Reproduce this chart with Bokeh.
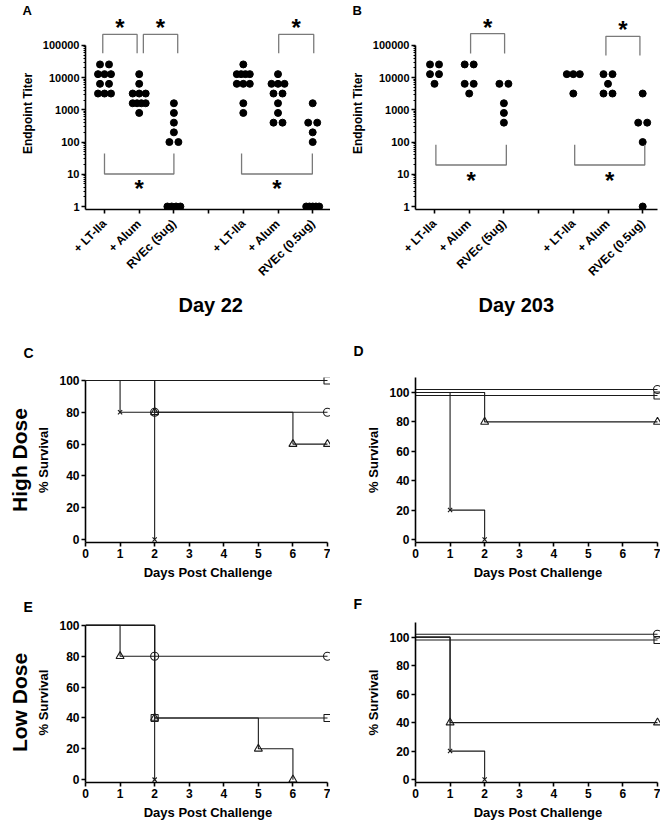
import math
from bokeh.plotting import figure
from bokeh.models import FixedTicker, Title, Range1d, NumeralTickFormatter
from bokeh.layouts import column, row
from bokeh.embed import file_html
from bokeh.resources import INLINE
from bokeh.core.properties import value

FONT = "Liberation Sans"

# ---------------- data ----------------
TICK_LABELS = ["+ LT-IIa", "+ Alum", "RVEc (5ug)", "", "+ LT-IIa", "+ Alum", "RVEc (0.5ug)"]
GROUP_POSITIONS = [1, 2, 3, 5, 6, 7]
TITER_TICKS = [1, 10, 100, 1000, 10000, 100000]

# Day 22 endpoint titers
DAY22_LT_5 = [25600, 25600, 12800, 12800, 12800, 6400, 6400, 3200, 3200, 3200]
DAY22_ALUM_5 = [12800, 6400, 3200, 3200, 3200, 1600, 1600, 1600, 1600, 800]
DAY22_RVEC_5 = [1600, 800, 400, 200, 100, 100, 1, 1, 1, 1]
DAY22_LT_05 = [25600, 12800, 12800, 12800, 12800, 6400, 6400, 6400, 1600, 800]
DAY22_ALUM_05 = [12800, 6400, 6400, 6400, 3200, 3200, 1600, 800, 400, 400]
DAY22_RVEC_05 = [1600, 400, 400, 200, 100, 1, 1, 1, 1, 1]

# Day 203 endpoint titers
DAY203_LT_5 = [25600, 25600, 12800, 12800, 6400]
DAY203_ALUM_5 = [25600, 25600, 6400, 6400, 3200]
DAY203_RVEC_5 = [6400, 6400, 1600, 800, 400]
DAY203_LT_05 = [12800, 12800, 12800, 3200]
DAY203_ALUM_05 = [12800, 12800, 6400, 3200, 3200]
DAY203_RVEC_05 = [3200, 400, 400, 100, 1]

DAY22_GROUPS = [DAY22_LT_5, DAY22_ALUM_5, DAY22_RVEC_5, DAY22_LT_05, DAY22_ALUM_05, DAY22_RVEC_05]
DAY203_GROUPS = [DAY203_LT_5, DAY203_ALUM_5, DAY203_RVEC_5, DAY203_LT_05, DAY203_ALUM_05, DAY203_RVEC_05]

# significance brackets: (left group, right group, bar level, leg end level, asterisk level)
DAY22_BRACKETS = [
    (0.95, 1.94, 2.19e5, 5.66e4, 5.39e5),
    (2.12, 3.11, 2.19e5, 5.66e4, 5.39e5),
    (6.02, 7.03, 2.19e5, 5.66e4, 5.39e5),
    (1.00, 3.00, 10.2, 44, 5.5),
    (4.95, 6.99, 10.2, 44, 5.5),
]
DAY203_BRACKETS = [
    (2.04, 3.02, 2.30e5, 5.55e4, 5.39e5),
    (5.94, 6.92, 1.90e5, 4.81e4, 4.54e5),
    (1.04, 3.07, 19.4, 82, 9.25),
    (5.04, 7.06, 19.4, 82, 9.25),
]

# survival curves: (days, % survival, marker)
C_CURVES = [
    ([0, 7], [100, 100], "square"),
    ([0, 2, 7], [100, 80, 80], "circle"),
    ([0, 2, 6, 7], [100, 80, 60, 60], "triangle"),
    ([0, 1, 2], [100, 80, 0], "x"),
]
D_CURVES = [
    ([0, 7], [102, 102], "circle"),
    ([0, 7], [98, 98], "square"),
    ([0, 2, 7], [100, 80, 80], "triangle"),
    ([0, 1, 2], [100, 20, 0], "x"),
]
E_CURVES = [
    ([0, 2, 7], [100, 80, 80], "circle"),
    ([0, 2, 7], [100, 40, 40], "square"),
    ([0, 1, 2, 5, 6], [100, 80, 40, 20, 0], "triangle"),
    ([0, 2], [100, 0], "x"),
]
F_CURVES = [
    ([0, 7], [102, 102], "circle"),
    ([0, 7], [98, 98], "square"),
    ([0, 1, 7], [100, 40, 40], "triangle"),
    ([0, 1, 2], [100, 20, 0], "x"),
]
DAY_TICKS = [0, 1, 2, 3, 4, 5, 6, 7]
SURVIVAL_TICKS = [0, 20, 40, 60, 80, 100]

LINE = "#1a1a1a"
FIG_W = 330


def style_axis(ax, tick_size, label_size):
    ax.axis_line_color = "black"
    ax.axis_line_width = 1.6
    ax.major_tick_line_color = "black"
    ax.major_tick_line_width = 1.6
    ax.major_tick_out = 4
    ax.major_tick_in = 0
    ax.minor_tick_line_color = None
    ax.major_label_text_font = FONT
    ax.major_label_text_font_style = "bold"
    ax.major_label_text_font_size = tick_size
    ax.major_label_text_color = "black"
    ax.axis_label_text_font = FONT
    ax.axis_label_text_font_style = "bold"
    ax.axis_label_text_font_size = label_size
    ax.axis_label_text_color = "black"


def base_fig(fx, fy, h, fl, fr, ft, fb, xr, yr, **kw):
    p = figure(width=FIG_W, height=h, x_range=xr, y_range=yr,
               output_backend="svg", toolbar_location=None,
               min_border_left=fl - fx, min_border_right=fx + FIG_W - fr,
               min_border_top=ft - fy, min_border_bottom=fy + h - fb, **kw)
    p.outline_line_color = None
    p.xgrid.visible = False
    p.ygrid.visible = False
    p.background_fill_color = "white"
    p.border_fill_color = "white"
    return p


def title(text, size, align="left", offset=0, standoff=0):
    return Title(text=text, align=align, offset=offset, standoff=standoff,
                 text_font=FONT, text_font_style="bold", text_font_size=size,
                 text_color="black")


ROW1_H = 322
ROW2_Y, ROW2_H = 322, 260
ROW3_Y, ROW3_H = 582, 240


def titer_panel(groups, brackets, day_text, day_offset, letter, fx, fl, fr, pos1):
    ppu = 34.7            # px per group slot
    one_px, dec_px = 206.0, 32.4
    ft, fb = 16, 209
    xr = Range1d(1 - (pos1 - fl) / ppu, 1 + (fr - pos1) / ppu)
    yr = Range1d(10 ** (-(fb - one_px) / dec_px), 10 ** ((one_px - ft) / dec_px))
    p = base_fig(fx, 0, ROW1_H, fl, fr, ft, fb, xr, yr, y_axis_type="log")

    xs, ys = [], []
    for pos, vals in zip(GROUP_POSITIONS, groups):
        for v in sorted(set(vals), reverse=True):
            n = vals.count(v)
            step = min(9.0, 13.0 / (n - 1)) if n > 1 else 0.0
            for i in range(n):
                xs.append(pos + (i - (n - 1) / 2) * step / ppu)
                ys.append(v)
    p.scatter(xs, ys, size=7, fill_color="black", line_color="black")

    bx = [[b[0], b[0], b[1], b[1]] for b in brackets]
    by = [[b[3], b[2], b[2], b[3]] for b in brackets]
    p.multi_line(bx, by, line_color="#7a7a7a", line_width=1.3)
    p.text(x=[(b[0] + b[1]) / 2 for b in brackets], y=[b[4] for b in brackets],
           text=["*"] * len(brackets), text_font=value(FONT), text_font_style="bold",
           text_font_size="24px", text_align="center", text_baseline="middle",
           y_offset=5.5, text_color="black")

    style_axis(p.xaxis[0], "12px", "12px")
    style_axis(p.yaxis[0], "11px", "12px")
    p.xaxis.ticker = FixedTicker(ticks=[1, 2, 3, 4, 5, 6, 7])
    p.xaxis.major_label_overrides = {i + 1: lab for i, lab in enumerate(TICK_LABELS)}
    p.xaxis.major_label_orientation = math.pi / 4
    p.xaxis.major_label_standoff = 8
    minors = [m * 10 ** k for k in range(5) for m in range(2, 10)]
    p.yaxis.ticker = FixedTicker(ticks=TITER_TICKS, minor_ticks=minors)
    p.yaxis.formatter = NumeralTickFormatter(format="0")
    p.yaxis.bounds = (yr.start, 100000)
    p.yaxis.minor_tick_line_color = "black"
    p.yaxis.minor_tick_line_width = 1
    p.yaxis.minor_tick_out = 2
    p.yaxis.minor_tick_in = 0
    p.yaxis.major_label_standoff = 2
    p.yaxis.axis_label = "Endpoint Titer"
    p.yaxis.axis_label_standoff = 5

    p.add_layout(title(day_text, "20px", "left", day_offset, 10), "below")
    p.add_layout(title(letter, "13px", "left", -63, 0), "above")
    return p


def survival_panel(curves, letter, side_text, fx, fy, h, fl, fr, x7, ft, fb, zero_px, hundred_px,
                   top_bound, letter_standoff):
    ppd = (x7 - fl) / 7.0
    xr = Range1d(0, 7 + (fr - x7) / ppd)
    ppv = (zero_px - hundred_px) / 100.0
    yr = Range1d(-(fb - zero_px) / ppv, (zero_px - ft) / ppv)
    p = base_fig(fx, fy, h, fl, fr, ft, fb, xr, yr)
    sizes = {"circle": 8, "square": 7, "triangle": 8, "x": 6}
    for t, s, m in curves:
        p.step(t, s, mode="after", line_color=LINE, line_width=1.1)
    for t, s, m in curves:
        p.scatter(t[1:], s[1:], marker=m, size=sizes[m], fill_color=None,
                  line_color=LINE, line_width=1.1)
    style_axis(p.xaxis[0], "12px", "13px")
    style_axis(p.yaxis[0], "12px", "13px")
    p.xaxis.ticker = FixedTicker(ticks=DAY_TICKS)
    p.xaxis.bounds = (0, 7)
    p.xaxis.major_label_standoff = 2
    p.xaxis.axis_label = "Days Post Challenge"
    p.xaxis.axis_label_standoff = 4
    p.yaxis.ticker = FixedTicker(ticks=SURVIVAL_TICKS)
    p.yaxis.bounds = (yr.start, top_bound if top_bound is not None else yr.end)
    p.yaxis.major_label_standoff = 2
    p.yaxis.axis_label = "% Survival"
    p.yaxis.axis_label_standoff = 5
    p.add_layout(title(letter, "14px", "left", -62, letter_standoff), "above")
    if side_text:
        p.add_layout(title(side_text, "21px", "center", 0, 6), "left")
    return p


pA = titer_panel(DAY22_GROUPS, DAY22_BRACKETS, "Day 22", 93, "A", 0, 85, 330, 104)
pB = titer_panel(DAY203_GROUPS, DAY203_BRACKETS, "Day 203", 63, "B", 330, 415, 657, 434)

pC = survival_panel(C_CURVES, "C", "High Dose", 0, ROW2_Y, ROW2_H, 85, 330, 327, 374, 542, 539, 377, 100, 34)
pD = survival_panel(D_CURVES, "D", None, 330, ROW2_Y, ROW2_H, 415, 660, 657, 377, 542, 539, 392, None, 37)
pE = survival_panel(E_CURVES, "E", "Low Dose", 0, ROW3_Y, ROW3_H, 85, 330, 327, 619, 786, 783, 622, 100, 16)
pF = survival_panel(F_CURVES, "F", None, 330, ROW3_Y, ROW3_H, 415, 660, 657, 622, 786, 783, 637, None, 22)

layout = column(row(pA, pB), row(pC, pD), row(pE, pF))
open("out.html", "w").write(file_html(layout, INLINE))
